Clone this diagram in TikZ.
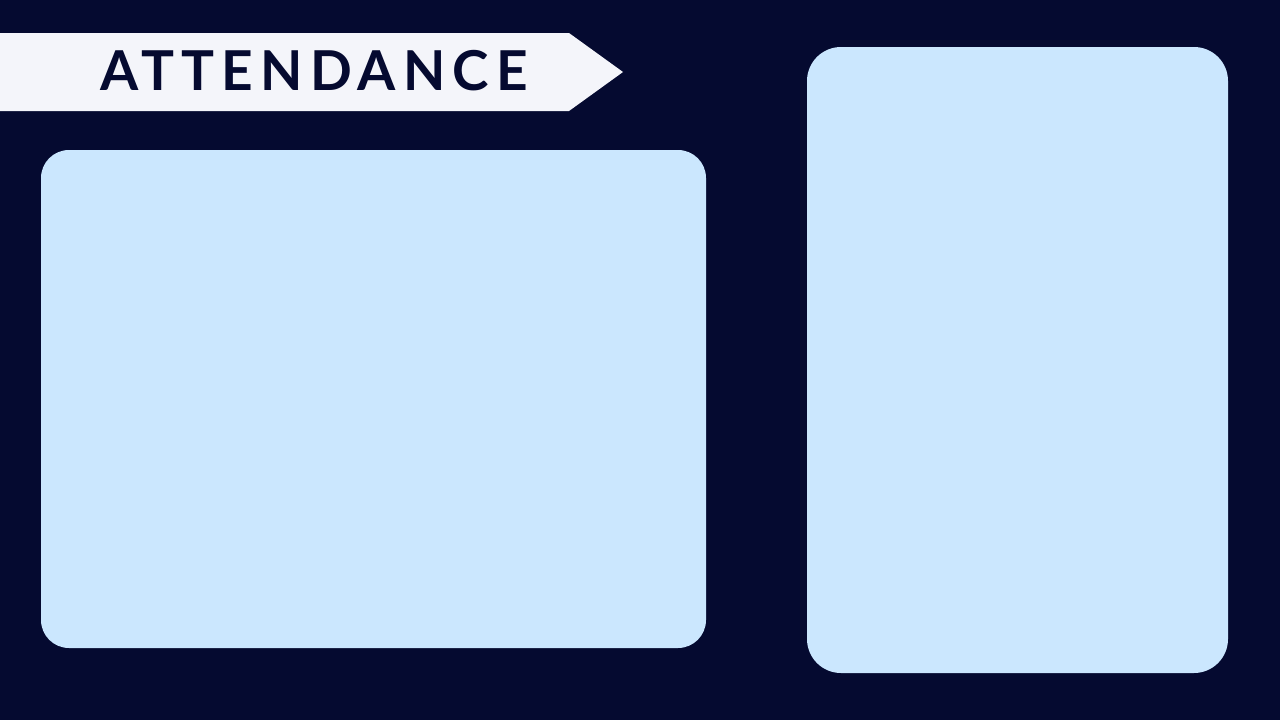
\documentclass[tikz,border=0pt]{standalone}
\usepackage{fontspec}
\setmainfont{Lato}
\definecolor{bgnavy}{HTML}{050A30}
\definecolor{panelblue}{HTML}{CBE7FE}
\definecolor{bannerwhite}{HTML}{F4F5FA}
\begin{document}
\begin{tikzpicture}[x=1pt,y=-1pt,
  panel/.style={fill=panelblue,draw=none},
  titletext/.style={text=bgnavy,font=\fontsize{55}{60}\selectfont\bfseries\addfontfeature{LetterSpace=13},inner sep=0pt,anchor=base}]
\fill[bgnavy] (0,0) rectangle (1280,720);
\useasboundingbox (0,0) rectangle (1280,720);
\fill[bannerwhite] (0,33) -- (569,33) -- (623,72) -- (569,111) -- (0,111) -- cycle;
\node[titletext] (title) at (314,90) {ATTENDANCE};
\fill[panel,rounded corners=28pt] (41,150) rectangle (706,648);
\fill[panel,rounded corners=34pt] (807,47) rectangle (1228,673);
\end{tikzpicture}
\end{document}
